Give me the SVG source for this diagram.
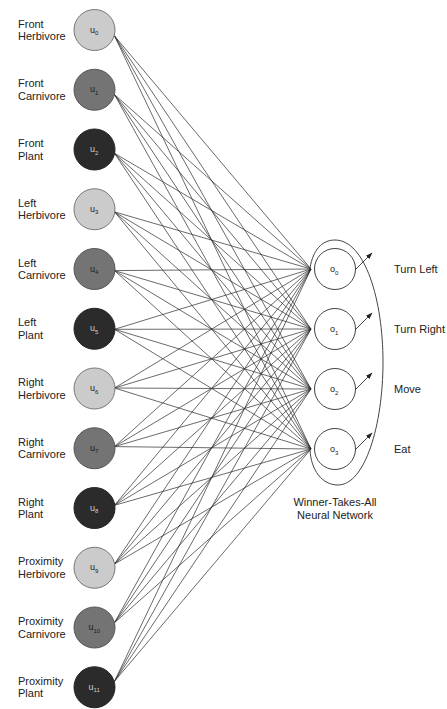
<svg xmlns="http://www.w3.org/2000/svg" width="447" height="709" viewBox="0 0 447 709">
<style>
.lbl{font-family:"Liberation Sans",Arial,sans-serif;font-size:11px;fill:#222}
.ul{font-family:"Liberation Sans",Arial,sans-serif;font-size:9px}
.sub{font-size:6px}
.herb{fill:#cbcbcb;stroke:#777;stroke-width:1}
.carn{fill:#747474;stroke:#555;stroke-width:1}
.plant{fill:#2b2b2b;stroke:#222;stroke-width:1}
.dk{fill:#1a1a1a}
.lt{fill:#cfcfcf}
.out{fill:#fff;stroke:#444;stroke-width:1}
#connectors line{stroke:#2a2a2a;stroke-width:0.7}
.arr{stroke:#333;stroke-width:0.9;fill:none;marker-end:url(#ah)}
.wta{fill:none;stroke:#444;stroke-width:1}
</style>
<defs>
<marker id="ah" viewBox="0 0 10 10" refX="9" refY="5" markerWidth="7" markerHeight="7" markerUnits="userSpaceOnUse" orient="auto">
<path d="M0 1.5L10 5L0 8.5Z" fill="#222"/>
</marker>
</defs>
<rect width="447" height="709" fill="#fff"/>
<g id="connectors">
<line x1="114.5" y1="35.9" x2="311" y2="269"/><line x1="114.5" y1="35.9" x2="311" y2="329"/><line x1="114.5" y1="35.9" x2="311" y2="389"/><line x1="114.5" y1="35.9" x2="311" y2="449"/>
<line x1="114.5" y1="94.6" x2="311" y2="269"/><line x1="114.5" y1="94.6" x2="311" y2="329"/><line x1="114.5" y1="94.6" x2="311" y2="389"/><line x1="114.5" y1="94.6" x2="311" y2="449"/>
<line x1="114.5" y1="153.3" x2="311" y2="269"/><line x1="114.5" y1="153.3" x2="311" y2="329"/><line x1="114.5" y1="153.3" x2="311" y2="389"/><line x1="114.5" y1="153.3" x2="311" y2="449"/>
<line x1="114.5" y1="211.9" x2="311" y2="269"/><line x1="114.5" y1="211.9" x2="311" y2="329"/><line x1="114.5" y1="211.9" x2="311" y2="389"/><line x1="114.5" y1="211.9" x2="311" y2="449"/>
<line x1="114.5" y1="270.6" x2="311" y2="269"/><line x1="114.5" y1="270.6" x2="311" y2="329"/><line x1="114.5" y1="270.6" x2="311" y2="389"/><line x1="114.5" y1="270.6" x2="311" y2="449"/>
<line x1="114.5" y1="329.3" x2="311" y2="269"/><line x1="114.5" y1="329.3" x2="311" y2="329"/><line x1="114.5" y1="329.3" x2="311" y2="389"/><line x1="114.5" y1="329.3" x2="311" y2="449"/>
<line x1="114.5" y1="388" x2="311" y2="269"/><line x1="114.5" y1="388" x2="311" y2="329"/><line x1="114.5" y1="388" x2="311" y2="389"/><line x1="114.5" y1="388" x2="311" y2="449"/>
<line x1="114.5" y1="446.6" x2="311" y2="269"/><line x1="114.5" y1="446.6" x2="311" y2="329"/><line x1="114.5" y1="446.6" x2="311" y2="389"/><line x1="114.5" y1="446.6" x2="311" y2="449"/>
<line x1="114.5" y1="505.3" x2="311" y2="269"/><line x1="114.5" y1="505.3" x2="311" y2="329"/><line x1="114.5" y1="505.3" x2="311" y2="389"/><line x1="114.5" y1="505.3" x2="311" y2="449"/>
<line x1="114.5" y1="564" x2="311" y2="269"/><line x1="114.5" y1="564" x2="311" y2="329"/><line x1="114.5" y1="564" x2="311" y2="389"/><line x1="114.5" y1="564" x2="311" y2="449"/>
<line x1="114.5" y1="622.7" x2="311" y2="269"/><line x1="114.5" y1="622.7" x2="311" y2="329"/><line x1="114.5" y1="622.7" x2="311" y2="389"/><line x1="114.5" y1="622.7" x2="311" y2="449"/>
<line x1="114.5" y1="681.3" x2="311" y2="269"/><line x1="114.5" y1="681.3" x2="311" y2="329"/><line x1="114.5" y1="681.3" x2="311" y2="389"/><line x1="114.5" y1="681.3" x2="311" y2="449"/>
</g>
<g id="wta">
<path class="wta" d="M310 268C313 250 322 240 335 240C365 240 383 300 383 362C383 425 365 485 338 485C322 485 311 470 310 450"/>
<text class="lbl" x="335" y="506" text-anchor="middle">Winner-Takes-All</text>
<text class="lbl" x="335" y="519" text-anchor="middle">Neural Network</text>
</g>
<g id="u0"><circle class="herb" cx="94.5" cy="30" r="20.5"/><text class="ul dk" x="90" y="32.5">u<tspan class="sub" dy="2.5">0</tspan></text><text class="lbl" x="18" y="27.5">Front</text><text class="lbl" x="18" y="40">Herbivore</text></g>
<g id="u1"><circle class="carn" cx="94.5" cy="89.75" r="20.5"/><text class="ul dk" x="90" y="92.25">u<tspan class="sub" dy="2.5">1</tspan></text><text class="lbl" x="18" y="87.25">Front</text><text class="lbl" x="18" y="99.75">Carnivore</text></g>
<g id="u2"><circle class="plant" cx="94.5" cy="149.5" r="20.5"/><text class="ul lt" x="90" y="152">u<tspan class="sub" dy="2.5">2</tspan></text><text class="lbl" x="18" y="147">Front</text><text class="lbl" x="18" y="159.5">Plant</text></g>
<g id="u3"><circle class="herb" cx="94.5" cy="209.25" r="20.5"/><text class="ul dk" x="90" y="211.75">u<tspan class="sub" dy="2.5">3</tspan></text><text class="lbl" x="18" y="206.75">Left</text><text class="lbl" x="18" y="219.25">Herbivore</text></g>
<g id="u4"><circle class="carn" cx="94.5" cy="269" r="20.5"/><text class="ul dk" x="90" y="271.5">u<tspan class="sub" dy="2.5">4</tspan></text><text class="lbl" x="18" y="266.5">Left</text><text class="lbl" x="18" y="279">Carnivore</text></g>
<g id="u5"><circle class="plant" cx="94.5" cy="328.75" r="20.5"/><text class="ul lt" x="90" y="331.25">u<tspan class="sub" dy="2.5">5</tspan></text><text class="lbl" x="18" y="326.25">Left</text><text class="lbl" x="18" y="338.75">Plant</text></g>
<g id="u6"><circle class="herb" cx="94.5" cy="388.5" r="20.5"/><text class="ul dk" x="90" y="391">u<tspan class="sub" dy="2.5">6</tspan></text><text class="lbl" x="18" y="386">Right</text><text class="lbl" x="18" y="398.5">Herbivore</text></g>
<g id="u7"><circle class="carn" cx="94.5" cy="448.25" r="20.5"/><text class="ul dk" x="90" y="450.75">u<tspan class="sub" dy="2.5">7</tspan></text><text class="lbl" x="18" y="445.75">Right</text><text class="lbl" x="18" y="458.25">Carnivore</text></g>
<g id="u8"><circle class="plant" cx="94.5" cy="508" r="20.5"/><text class="ul lt" x="90" y="510.5">u<tspan class="sub" dy="2.5">8</tspan></text><text class="lbl" x="18" y="505.5">Right</text><text class="lbl" x="18" y="518">Plant</text></g>
<g id="u9"><circle class="herb" cx="94.5" cy="567.75" r="20.5"/><text class="ul dk" x="90" y="570.25">u<tspan class="sub" dy="2.5">9</tspan></text><text class="lbl" x="18" y="565.25">Proximity</text><text class="lbl" x="18" y="577.75">Herbivore</text></g>
<g id="u10"><circle class="carn" cx="94.5" cy="627.5" r="20.5"/><text class="ul dk" x="88.5" y="630">u<tspan class="sub" dy="2.5">10</tspan></text><text class="lbl" x="18" y="625">Proximity</text><text class="lbl" x="18" y="637.5">Carnivore</text></g>
<g id="u11"><circle class="plant" cx="94.5" cy="687.25" r="20.5"/><text class="ul lt" x="88.5" y="689.75">u<tspan class="sub" dy="2.5">11</tspan></text><text class="lbl" x="18" y="684.75">Proximity</text><text class="lbl" x="18" y="697.25">Plant</text></g>
<g id="o0"><circle class="out" cx="335" cy="269" r="20.5"/><text class="ul dk" x="330" y="272">o<tspan class="sub" dy="2.5">0</tspan></text><path class="arr" d="M355 270L372 253"/><text class="lbl" x="394" y="273">Turn Left</text></g>
<g id="o1"><circle class="out" cx="335" cy="329" r="20.5"/><text class="ul dk" x="330" y="332">o<tspan class="sub" dy="2.5">1</tspan></text><path class="arr" d="M355 330L372 313"/><text class="lbl" x="394" y="333">Turn Right</text></g>
<g id="o2"><circle class="out" cx="335" cy="389" r="20.5"/><text class="ul dk" x="330" y="392">o<tspan class="sub" dy="2.5">2</tspan></text><path class="arr" d="M355 390L372 373"/><text class="lbl" x="394" y="393">Move</text></g>
<g id="o3"><circle class="out" cx="335" cy="449" r="20.5"/><text class="ul dk" x="330" y="452">o<tspan class="sub" dy="2.5">3</tspan></text><path class="arr" d="M355 450L372 433"/><text class="lbl" x="394" y="453">Eat</text></g>
</svg>
